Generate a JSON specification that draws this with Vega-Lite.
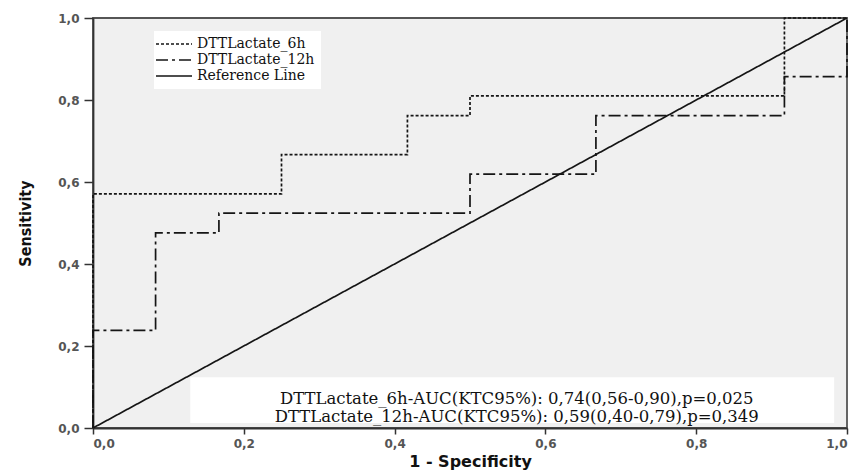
{
  "$schema": "https://vega.github.io/schema/vega-lite/v6.json",
  "width": 754,
  "height": 410,
  "autosize": "none",
  "padding": {"left": 93, "top": 18, "right": 14, "bottom": 44},
  "background": "white",
  "config": {
    "view": {"fill": "#f0f0f0", "stroke": "#555555", "strokeWidth": 1.8},
    "axis": {
      "grid": false,
      "domainColor": "#333333",
      "domainWidth": 1.8,
      "tickColor": "#333333",
      "tickWidth": 1.5,
      "labelFont": "DejaVu Sans",
      "labelFontSize": 12,
      "labelFontWeight": "bold",
      "labelColor": "#555555",
      "titleColor": "#111111",
      "titleFontWeight": "bold"
    }
  },
  "datasets": {
    "roc": [
      {"series": "DTTLactate_6h", "order": 1, "fpr": 0, "tpr": 0},
      {"series": "DTTLactate_6h", "order": 2, "fpr": 0, "tpr": 0.571},
      {"series": "DTTLactate_6h", "order": 3, "fpr": 0.25, "tpr": 0.571},
      {"series": "DTTLactate_6h", "order": 4, "fpr": 0.25, "tpr": 0.667},
      {"series": "DTTLactate_6h", "order": 5, "fpr": 0.417, "tpr": 0.667},
      {"series": "DTTLactate_6h", "order": 6, "fpr": 0.417, "tpr": 0.762},
      {"series": "DTTLactate_6h", "order": 7, "fpr": 0.5, "tpr": 0.762},
      {"series": "DTTLactate_6h", "order": 8, "fpr": 0.5, "tpr": 0.81},
      {"series": "DTTLactate_6h", "order": 9, "fpr": 0.917, "tpr": 0.81},
      {"series": "DTTLactate_6h", "order": 10, "fpr": 0.917, "tpr": 1},
      {"series": "DTTLactate_6h", "order": 11, "fpr": 1, "tpr": 1},
      {"series": "DTTLactate_12h", "order": 1, "fpr": 0, "tpr": 0},
      {"series": "DTTLactate_12h", "order": 2, "fpr": 0, "tpr": 0.238},
      {"series": "DTTLactate_12h", "order": 3, "fpr": 0.083, "tpr": 0.238},
      {"series": "DTTLactate_12h", "order": 4, "fpr": 0.083, "tpr": 0.476},
      {"series": "DTTLactate_12h", "order": 5, "fpr": 0.167, "tpr": 0.476},
      {"series": "DTTLactate_12h", "order": 6, "fpr": 0.167, "tpr": 0.524},
      {"series": "DTTLactate_12h", "order": 7, "fpr": 0.5, "tpr": 0.524},
      {"series": "DTTLactate_12h", "order": 8, "fpr": 0.5, "tpr": 0.619},
      {"series": "DTTLactate_12h", "order": 9, "fpr": 0.667, "tpr": 0.619},
      {"series": "DTTLactate_12h", "order": 10, "fpr": 0.667, "tpr": 0.762},
      {"series": "DTTLactate_12h", "order": 11, "fpr": 0.917, "tpr": 0.762},
      {"series": "DTTLactate_12h", "order": 12, "fpr": 0.917, "tpr": 0.857},
      {"series": "DTTLactate_12h", "order": 13, "fpr": 1, "tpr": 0.857},
      {"series": "DTTLactate_12h", "order": 14, "fpr": 1, "tpr": 1},
      {"series": "Reference Line", "order": 1, "fpr": 0, "tpr": 0},
      {"series": "Reference Line", "order": 2, "fpr": 1, "tpr": 1}
    ]
  },
  "layer": [
    {
      "data": {"values": [{}]},
      "mark": {"type": "rect", "fill": "white", "stroke": null},
      "encoding": {
        "x": {"datum": 0.129, "type": "quantitative", "scale": {"domain": [0, 1], "nice": false}},
        "x2": {"datum": 0.983},
        "y": {"datum": 0.012, "type": "quantitative", "scale": {"domain": [0, 1], "nice": false}},
        "y2": {"datum": 0.124}
      }
    },
    {
      "data": {"name": "roc"},
      "mark": {"type": "line", "color": "#151515", "strokeWidth": 1.7, "clip": false},
      "encoding": {
        "x": {
          "field": "fpr", "type": "quantitative",
          "scale": {"domain": [0, 1], "nice": false},
          "axis": {
            "values": [0, 0.2, 0.4, 0.6, 0.8, 1],
            "labelExpr": "replace(format(datum.value, '.1f'), '.', ',')",
            "tickSize": 6,
            "labelPadding": 4,
            "title": "1 - Specificity",
            "titleFont": "DejaVu Sans",
            "titleFontSize": 16,
            "titlePadding": 4
          }
        },
        "y": {
          "field": "tpr", "type": "quantitative",
          "scale": {"domain": [0, 1], "nice": false},
          "axis": {
            "values": [0, 0.2, 0.4, 0.6, 0.8, 1],
            "labelExpr": "replace(format(datum.value, '.1f'), '.', ',')",
            "tickSize": 9,
            "labelPadding": 5,
            "title": "Sensitivity",
            "titleFont": "DejaVu Sans Condensed, Liberation Sans",
            "titleFontSize": 16,
            "titlePadding": 24
          }
        },
        "order": {"field": "order", "type": "quantitative"},
        "detail": {"field": "series"},
        "strokeDash": {
          "field": "series", "type": "nominal",
          "scale": {
            "domain": ["DTTLactate_6h", "DTTLactate_12h", "Reference Line"],
            "range": [[3, 2], [12, 4, 3, 4], [1, 0]]
          },
          "legend": {
            "title": null,
            "orient": "none",
            "legendX": 61,
            "legendY": 13,
            "fillColor": "white",
            "padding": 6,
            "symbolType": "M-2.2,0H5",
            "symbolSize": 100,
            "symbolStrokeWidth": 1.7,
            "symbolStrokeColor": "#151515",
            "symbolFillColor": "transparent",
            "labelFont": "DejaVu Serif",
            "labelFontSize": 14,
            "labelColor": "#111111",
            "labelOffset": 23,
            "labelExpr": "datum.label + '\u00a0\u00a0\u00a0\u00a0\u00a0\u00a0\u00a0\u00a0\u00a0\u00a0\u00a0\u00a0\u00a0\u00a0\u00a0\u00a0\u00a0\u00a0\u00a0\u00a0\u00a0\u00a0'",
            "rowPadding": 2
          }
        }
      }
    },
    {
      "data": {"values": [{}]},
      "mark": {
        "type": "text",
        "text": ["DTTLactate_6h-AUC(KTC95%): 0,74(0,56-0,90),p=0,025", "DTTLactate_12h-AUC(KTC95%): 0,59(0,40-0,79),p=0,349"],
        "font": "DejaVu Serif",
        "fontSize": 16.5,
        "lineHeight": 18,
        "align": "center",
        "baseline": "middle",
        "color": "#111111"
      },
      "encoding": {
        "x": {"datum": 0.562, "type": "quantitative"},
        "y": {"datum": 0.071, "type": "quantitative"}
      }
    }
  ]
}
